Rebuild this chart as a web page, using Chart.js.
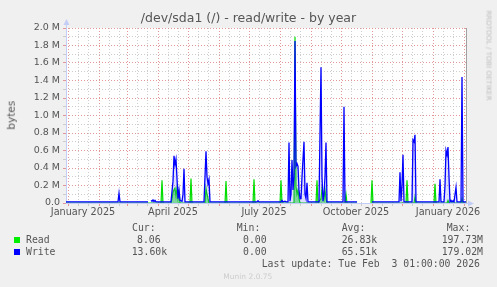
<!DOCTYPE html>
<html><head><meta charset="utf-8">
<script src="https://cdn.jsdelivr.net/npm/chart.js@4.4.1/dist/chart.umd.min.js"></script>
<style>
html,body{margin:0;padding:0;background:#f0f0f0;width:497px;height:287px;overflow:hidden;}
#wrap{position:relative;width:497px;height:287px;}
canvas{position:absolute;left:0;top:0;}
.t{position:absolute;white-space:pre;color:#555;font-family:"DejaVu Sans";}
.m{position:absolute;white-space:pre;color:#555;font-family:"DejaVu Sans Mono";font-size:9.8px;line-height:9.8px;}
.sq{position:absolute;width:6px;height:6px;}
</style></head><body>
<div id="wrap">
<canvas id="c" width="497" height="287"></canvas>
<div class="t" style="left:0;width:497px;text-align:center;top:12.4px;font-size:12.5px;line-height:12.5px;">/dev/sda1 (/) - read/write - by year</div>
<div class="t" style="left:-19px;width:60px;text-align:center;top:110px;font-size:10.5px;line-height:10.5px;transform:rotate(-90deg);">bytes</div>
<div class="t" style="left:427.5px;width:120px;text-align:center;top:51.5px;font-size:7px;line-height:7px;color:#bdbdbd;transform:rotate(90deg);">RRDTOOL / TOBI OETIKER</div>
<div class="m" style="left:132px;top:223.2px;">Cur:</div>
<div class="m" style="left:236.7px;top:223.2px;">Min:</div>
<div class="m" style="left:341.7px;top:223.2px;">Avg:</div>
<div class="m" style="left:446.7px;top:223.2px;">Max:</div>
<div class="sq" style="left:14px;top:237px;background:#00ee00;"></div>
<div class="m" style="left:26px;top:234.7px;">Read</div>
<div class="m" style="left:137px;top:234.7px;">8.06</div>
<div class="m" style="left:243px;top:234.7px;">0.00</div>
<div class="m" style="left:341.7px;top:234.7px;">26.83k</div>
<div class="m" style="left:441.7px;top:234.7px;">197.73M</div>
<div class="sq" style="left:14px;top:249px;background:#0000ff;"></div>
<div class="m" style="left:26px;top:246.7px;">Write</div>
<div class="m" style="left:131.7px;top:246.7px;">13.60k</div>
<div class="m" style="left:243px;top:246.7px;">0.00</div>
<div class="m" style="left:341.7px;top:246.7px;">65.51k</div>
<div class="m" style="left:441.7px;top:246.7px;">179.02M</div>
<div class="m" style="left:261.7px;top:258.7px;">Last update: Tue Feb  3 01:00:00 2026</div>
<div class="t" style="left:223.3px;top:272.7px;font-size:7.5px;line-height:7.5px;color:#cdcdcd;">Munin 2.0.75</div>
</div>
<script>
// x = days since 2024-12-30 (400-day window ending 2026-02-03)
const writeDays = [0,52,53,54,82,83,85,86,87,88,89,90,
  105,107,108,109,110,111,112,113,114,116,117,118,119,
  138,140,141,142,143,144,191,192,193,215,216,217,219,220,
  222,223,224,225,226,227,228,229,230,231,232,233,234,235,236,237,238,239,240,241,242,
  253,255,256,257,258,259,260,261,277,278,279,291,298,306,
  333,334,335,336,337,338,346,347,348,349,350,373,374,375,
  378,379,380,381,382,383,384,385,386,387,388,390,391,395,396,397,400];
const writeValues = [0.013,0.013,0.11,0.013,0.013,null,0.03,0.02,0.035,0.015,0.03,0.013,
  0.013,0.25,0.54,0.44,0.50,0.28,0.05,0.15,0.03,0.02,0.10,0.39,0.013,
  0.013,0.59,0.30,0.22,0.27,0.013,0.013,0.025,0.013,0.013,0.03,0.013,0.02,0.013,
  0.013,0.69,0.02,0.10,0.49,0.15,0.30,1.85,0.42,0.45,0.42,0.15,0.05,0.05,0.30,0.50,0.70,0.10,0.05,0.23,0.013,
  0.013,1.55,0.30,0.02,0.10,0.30,0.69,0.013,0.013,1.10,0.013,0.013,null,0.013,
  0.013,0.35,0.02,0.20,0.55,0.013,0.013,0.72,0.70,0.78,0.013,0.013,0.27,0.013,
  0.013,0.20,0.60,0.55,0.64,0.30,0.013,0.03,0.013,0.025,0.013,0.18,0.013,0.013,1.44,0.013,0.013];
const readDays = [0,95,96,97,105,106,107,108,109,110,111,112,113,114,124,125,126,
  139,140,141,142,143,159,160,161,187,188,189,214,215,216,
  228,229,230,231,232,233,234,250,251,252,255,256,257,258,259,260,261,
  279,280,281,291,298,305,306,307,340,341,342,348,349,350,368,369,370,
  381,382,383,395,396,397,400];
const readValues = [0,0,0.26,0,0,0.05,0.12,0.15,0.17,0.08,0.17,0.05,0.12,0,0,0.28,0,
  0,0.17,0.10,0.05,0,0,0.25,0,0,0.27,0,0,0.26,0,
  0,1.90,0.19,0.10,0.15,0.05,0,0,0.26,0,0.05,0.16,0.12,0.05,0.15,0.05,0,
  0,0.10,0,0,null,0,0.26,0,0,0.26,0,0,0.07,0,0,0.22,0,
  0,0.03,0,0,0.05,0,0];
// axis ticks
const monthStartDays = [2,33,61,92,122,153,183,214,245,275,306,336,367,398];
const minorDays = [12,22,43,53,71,81,102,112,132,142,163,173,193,203,224,234,255,265,285,295,316,326,346,356,377,387];
const labelDays = [17,107,198,290,382];
const xLabels = ["January 2025","April 2025","July 2025","October 2025","January 2026"];
const yTicks = [0,0.1,0.2,0.3,0.4,0.5,0.6,0.7,0.8,0.9,1.0,1.1,1.2,1.3,1.4,1.5,1.6,1.7,1.8,1.9,2.0];

const RED='rgba(226,140,140,0.9)', GRAY='rgba(200,200,200,0.9)', NONE='rgba(0,0,0,0)';
const AX='#c4cdf5';
const xTickVals = [...monthStartDays, ...minorDays, ...labelDays].sort((a,b)=>a-b);

const bg = {id:'bg', beforeDraw(c){const a=c.chartArea,x=c.ctx;x.save();x.fillStyle='#ffffff';x.fillRect(a.left,a.top,a.right-a.left,a.bottom-a.top);x.restore();},
  beforeDatasetsDraw(c){const a=c.chartArea,x=c.ctx;x.save();
    x.strokeStyle='#a0a0a0';x.lineWidth=1;x.beginPath();x.moveTo(a.right+0.5,a.top);x.lineTo(a.right+0.5,a.bottom);x.stroke();
    x.strokeStyle=AX;x.fillStyle=AX;
    x.beginPath();x.moveTo(a.left+0.5,a.bottom);x.lineTo(a.left+0.5,a.top-4);x.stroke();
    x.beginPath();x.moveTo(a.left-3+0.5,a.top-3);x.lineTo(a.left+3.5,a.top-3);x.lineTo(a.left+0.5,a.top-9);x.closePath();x.fill();
    x.beginPath();x.moveTo(a.left,a.bottom+0.5);x.lineTo(a.right+4,a.bottom+0.5);x.stroke();
    x.beginPath();x.moveTo(a.right+2,a.bottom-2.5);x.lineTo(a.right+2,a.bottom+3.5);x.lineTo(a.right+8,a.bottom+0.5);x.closePath();x.fill();
    x.restore();}};

new Chart(document.getElementById('c'),{
  type:'line',
  data:{datasets:[
    {label:'Write',data:writeDays.map((d,i)=>({x:d,y:writeValues[i]})),borderColor:'#0000ff',borderWidth:1.3,pointRadius:0,tension:0,spanGaps:false,fill:'origin',backgroundColor:'rgba(70,70,255,0.18)'},
    {label:'Read',data:readDays.map((d,i)=>({x:d,y:readValues[i]})),borderColor:'#00dd00',borderWidth:1.2,pointRadius:0,tension:0,spanGaps:false,fill:'origin',backgroundColor:'rgba(0,230,0,0.45)'}
  ]},
  options:{responsive:false,animation:false,devicePixelRatio:1,
    layout:{padding:{left:0,right:31,top:28,bottom:0}},
    plugins:{legend:{display:false},tooltip:{enabled:false},title:{display:false}},
    scales:{
      x:{type:'linear',min:0,max:400,
        afterBuildTicks:s=>{s.ticks=xTickVals.map(v=>({value:v}));},
        afterFit:s=>{s.height=84;},
        ticks:{autoSkip:false,maxRotation:0,padding:1,color:'#555',font:{family:'DejaVu Sans',size:9.7},
          callback:(v)=>{const k=labelDays.indexOf(v);return k>=0?xLabels[k]:'';}},
        grid:{lineWidth:1,tickLength:3,
          color:c=>{const v=c.tick&&c.tick.value;return labelDays.includes(v)?NONE:(monthStartDays.includes(v)?RED:GRAY);},
          tickColor:c=>{const v=c.tick&&c.tick.value;return labelDays.includes(v)?NONE:(monthStartDays.includes(v)?RED:GRAY);}},
        border:{display:false,dash:[1,2]}},
      y:{min:0,max:2,
        afterBuildTicks:s=>{s.ticks=yTicks.map(v=>({value:v}));},
        afterFit:s=>{s.width=66;},
        ticks:{autoSkip:false,padding:3,color:'#555',font:{family:'DejaVu Sans',size:9.5},
          callback:(v)=>{const n=Math.round(v*10);if(n%2)return '';return n===0?'0.0':(n/10).toFixed(1)+' M';}},
        grid:{lineWidth:1,tickLength:3,
          color:c=>{const n=Math.round((c.tick?c.tick.value:0)*10);return n===0?NONE:(n%2?GRAY:RED);},
          tickColor:c=>{const n=Math.round((c.tick?c.tick.value:0)*10);return n%2?GRAY:RED;}},
        border:{display:false,dash:[1,2]}}
    }},
  plugins:[bg]
});
</script>
</body></html>
